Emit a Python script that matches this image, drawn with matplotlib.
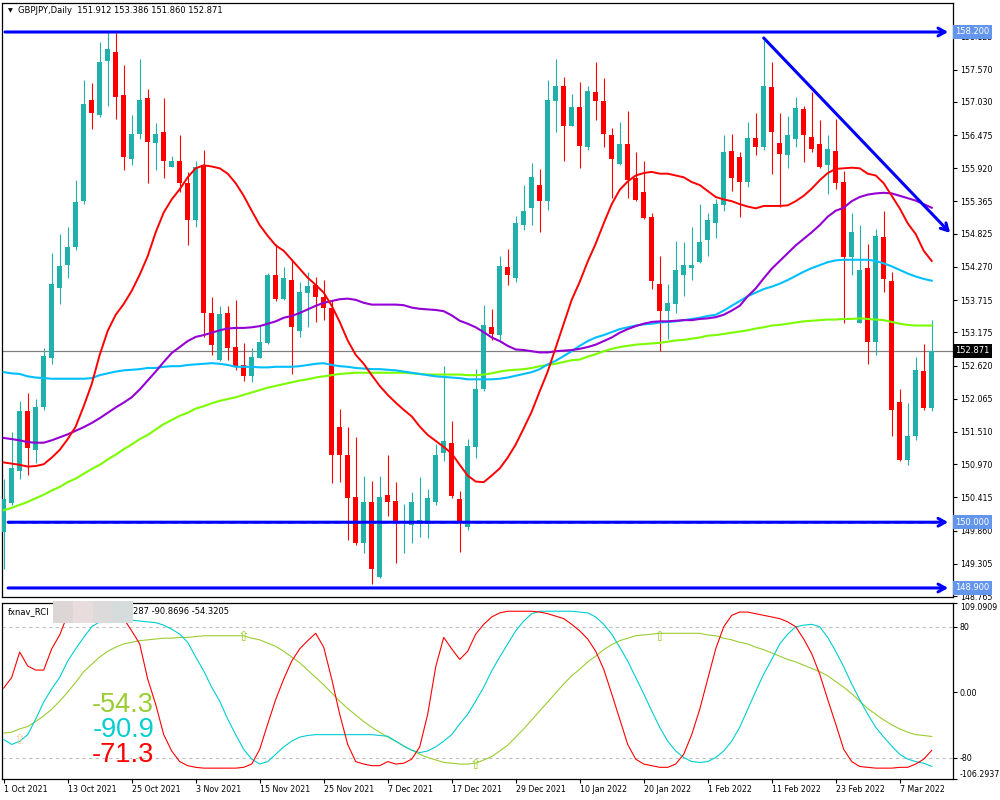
import matplotlib.pyplot as plt
from matplotlib.patches import Rectangle
import numpy as np

plt.rcParams['font.family'] = ['DejaVu Sans']

symbol = 'GBPJPY,Daily'
ohlc_text = '151.912 153.386 151.860 152.871'

# daily candles, 1 Oct 2021 .. Mar 2022
opens = [149.84, 150.32, 150.85, 151.86, 151.20, 151.93, 152.75, 153.92, 154.31, 154.60,
         155.37, 157.07, 156.81, 157.72, 157.86, 157.14, 156.08, 156.49, 157.09, 156.34,
         156.52, 155.94, 156.05, 155.67, 155.06, 155.97, 153.50, 152.72, 153.50, 152.93,
         152.63, 152.44, 152.75, 153.00, 154.13, 153.73, 154.05, 153.20, 153.84, 153.97,
         153.77, 153.59, 151.60, 151.12, 150.43, 149.66, 150.33, 149.08, 150.45, 150.36,
         149.98, 149.95, 149.98, 149.97, 150.34, 151.16, 151.33, 150.38, 149.92, 151.26,
         152.22, 153.27, 153.13, 154.27, 154.09, 154.97, 155.26, 155.64, 155.37, 157.05,
         157.29, 156.62, 156.95, 156.27, 157.19, 157.04, 156.47, 155.99, 156.33, 155.76,
         155.52, 155.11, 153.99, 153.53, 153.65, 154.14, 154.25, 154.36, 154.72, 155.00,
         155.31, 156.21, 156.11, 155.69, 156.42, 156.28, 157.28, 156.35, 156.15, 156.41,
         156.91, 156.44, 156.32, 155.97, 156.21, 155.69, 154.44, 153.34, 154.25, 153.01,
         154.77, 154.03, 152.01, 151.04, 151.44, 152.53, 151.912]
highs = [150.73, 151.51, 152.03, 152.16, 152.06, 152.92, 154.50, 154.82, 154.94, 155.72,
         157.40, 157.34, 158.04, 158.21, 158.18, 157.64, 156.81, 157.75, 157.25, 156.68,
         157.09, 156.13, 156.47, 155.86, 156.05, 156.22, 153.76, 153.62, 153.61, 153.72,
         152.99, 152.92, 153.29, 154.17, 154.65, 154.27, 154.41, 154.02, 154.19, 154.11,
         154.05, 153.72, 151.89, 151.60, 151.42, 150.78, 150.69, 150.78, 151.12, 150.67,
         150.30, 150.50, 150.75, 150.56, 151.30, 152.61, 151.70, 150.52, 151.39, 152.57,
         153.64, 153.56, 154.45, 154.57, 155.12, 155.64, 156.01, 155.90, 157.40, 157.75,
         157.45, 157.17, 157.36, 157.29, 157.69, 157.43, 156.59, 156.70, 156.88, 156.19,
         156.04, 155.18, 154.46, 153.99, 154.71, 154.69, 154.94, 155.32, 155.18, 155.40,
         156.48, 156.49, 156.19, 156.70, 156.84, 158.06, 157.70, 156.84, 156.80, 157.11,
         156.97, 157.20, 156.73, 156.48, 156.74, 155.87, 155.17, 154.97, 154.66, 154.91,
         155.21, 154.19, 152.22, 152.00, 152.77, 152.98, 153.386]
lows = [149.21, 150.29, 150.72, 150.79, 150.99, 151.87, 152.65, 153.65, 154.08, 154.56,
        155.32, 156.57, 156.77, 156.97, 156.74, 155.89, 155.97, 156.41, 155.67, 155.89,
        155.75, 155.94, 155.52, 154.63, 154.94, 153.10, 152.80, 152.69, 152.72, 152.55,
        152.36, 152.34, 152.74, 152.98, 153.70, 153.72, 152.48, 153.09, 153.26, 153.35,
        153.38, 150.66, 150.67, 149.71, 149.62, 149.48, 148.96, 149.07, 150.11, 149.32,
        149.48, 149.66, 149.75, 149.74, 150.28, 151.02, 150.40, 149.51, 149.87, 151.08,
        152.19, 153.04, 153.04, 153.97, 154.02, 154.89, 154.97, 154.86, 155.23, 156.53,
        156.05, 156.62, 155.92, 156.22, 156.73, 156.27, 155.43, 155.98, 155.43, 155.37,
        155.07, 153.90, 152.86, 153.07, 153.50, 153.78, 154.05, 154.34, 154.45, 154.75,
        155.21, 155.54, 155.10, 155.61, 156.15, 156.22, 155.83, 155.28, 155.93, 156.28,
        156.02, 156.19, 155.92, 155.49, 155.58, 153.34, 154.13, 153.33, 152.65, 152.80,
        153.85, 151.44, 151.02, 150.96, 151.37, 151.87, 151.860]
closes = [150.39, 150.90, 151.86, 151.24, 151.93, 152.78, 153.98, 154.28, 154.61, 155.35,
          156.99, 156.85, 157.70, 157.92, 157.12, 156.11, 156.50, 157.07, 156.36, 156.49,
          156.04, 156.05, 155.67, 155.06, 155.95, 153.50, 152.96, 153.48, 152.92, 152.61,
          152.44, 152.77, 153.01, 154.14, 153.73, 154.09, 153.26, 153.85, 153.95, 153.77,
          153.59, 151.13, 151.13, 150.41, 149.66, 150.33, 149.21, 150.42, 150.34, 149.98,
          150.01, 150.34, 150.04, 150.41, 151.12, 151.36, 150.44, 149.99, 151.27, 152.22,
          153.30, 153.15, 154.28, 154.13, 155.00, 155.20, 155.77, 155.37, 157.07, 157.29,
          156.62, 156.95, 156.30, 157.22, 157.04, 156.50, 156.07, 156.33, 155.73, 155.39,
          155.09, 154.04, 153.53, 153.67, 154.22, 154.30, 154.31, 154.69, 155.06, 155.32,
          156.19, 155.75, 155.69, 156.42, 156.28, 157.29, 156.53, 156.16, 156.47, 156.93,
          156.47, 156.24, 155.94, 156.24, 155.67, 154.44, 154.86, 154.22, 153.01, 154.79,
          154.06, 151.87, 151.04, 151.44, 152.54, 151.91, 152.871]

ma_red = [151.00, 150.98, 150.96, 150.93, 150.94, 150.97, 151.08, 151.21, 151.39, 151.60,
          151.94, 152.31, 152.80, 153.20, 153.47, 153.65, 153.87, 154.14, 154.45, 154.85,
          155.18, 155.40, 155.57, 155.77, 155.92, 155.97, 155.95, 155.92, 155.83, 155.67,
          155.46, 155.21, 154.97, 154.79, 154.63, 154.54, 154.39, 154.24, 154.09, 153.97,
          153.84, 153.62, 153.35, 153.04, 152.80, 152.65, 152.46, 152.28, 152.13, 152.00,
          151.88, 151.77, 151.60, 151.46, 151.36, 151.26, 151.15, 150.96, 150.78, 150.68,
          150.67, 150.78, 150.90, 151.08, 151.30, 151.57, 151.85, 152.19, 152.52, 152.92,
          153.32, 153.72, 154.02, 154.36, 154.66, 155.00, 155.32, 155.56, 155.70, 155.80,
          155.84, 155.86, 155.83, 155.83, 155.80, 155.77, 155.69, 155.64, 155.54, 155.44,
          155.40, 155.37, 155.32, 155.28, 155.25, 155.29, 155.29, 155.29, 155.30, 155.37,
          155.46, 155.58, 155.72, 155.84, 155.91, 155.92, 155.93, 155.92, 155.83, 155.80,
          155.67, 155.46, 155.25, 155.00, 154.82, 154.54, 154.37]
ma_purple = [151.41, 151.39, 151.37, 151.34, 151.33, 151.33, 151.37, 151.42, 151.47, 151.53,
             151.59, 151.66, 151.74, 151.83, 151.92, 152.00, 152.09, 152.22, 152.37, 152.52,
             152.68, 152.83, 152.93, 153.03, 153.10, 153.13, 153.17, 153.21, 153.24, 153.25,
             153.25, 153.26, 153.28, 153.32, 153.36, 153.42, 153.45, 153.50, 153.56, 153.62,
             153.67, 153.70, 153.73, 153.74, 153.72, 153.67, 153.64, 153.64, 153.64, 153.64,
             153.63, 153.59, 153.57, 153.56, 153.55, 153.53, 153.46, 153.37, 153.32, 153.26,
             153.18, 153.09, 153.03, 152.95, 152.89, 152.88, 152.86, 152.84, 152.84, 152.86,
             152.87, 152.88, 152.90, 152.93, 152.97, 153.03, 153.09, 153.17, 153.23, 153.28,
             153.32, 153.35, 153.36, 153.36, 153.37, 153.38, 153.38, 153.40, 153.41, 153.43,
             153.47, 153.54, 153.62, 153.78, 153.91, 154.08, 154.24, 154.37, 154.50, 154.63,
             154.74, 154.85, 154.97, 155.11, 155.21, 155.26, 155.37, 155.44, 155.48, 155.50,
             155.51, 155.50, 155.46, 155.42, 155.38, 155.32, 155.26]
ma_cyan = [152.51, 152.49, 152.48, 152.44, 152.42, 152.41, 152.40, 152.40, 152.40, 152.40,
           152.40, 152.41, 152.46, 152.49, 152.52, 152.54, 152.55, 152.56, 152.58, 152.58,
           152.60, 152.61, 152.61, 152.63, 152.64, 152.65, 152.66, 152.65, 152.63, 152.60,
           152.60, 152.60, 152.59, 152.59, 152.60, 152.60, 152.60, 152.61, 152.63, 152.65,
           152.66, 152.63, 152.61, 152.60, 152.58, 152.57, 152.56, 152.56, 152.55, 152.54,
           152.52, 152.50, 152.48, 152.46, 152.44, 152.43, 152.42, 152.41, 152.39, 152.39,
           152.39, 152.39, 152.40, 152.42, 152.45, 152.48, 152.51, 152.56, 152.64, 152.70,
           152.78, 152.86, 152.95, 153.03, 153.09, 153.13, 153.18, 153.23, 153.26, 153.29,
           153.31, 153.32, 153.34, 153.35, 153.36, 153.38, 153.40, 153.42, 153.45, 153.47,
           153.54, 153.62, 153.70, 153.78, 153.84, 153.90, 153.94, 153.99, 154.05, 154.12,
           154.19, 154.25, 154.30, 154.35, 154.38, 154.39, 154.39, 154.39, 154.39, 154.37,
           154.33, 154.28, 154.22, 154.16, 154.11, 154.07, 154.04]
ma_green = [150.20, 150.24, 150.29, 150.34, 150.40, 150.46, 150.53, 150.59, 150.67, 150.73,
            150.81, 150.89, 150.96, 151.05, 151.13, 151.22, 151.30, 151.39, 151.46, 151.55,
            151.64, 151.71, 151.78, 151.83, 151.90, 151.94, 151.99, 152.03, 152.06, 152.09,
            152.13, 152.17, 152.21, 152.25, 152.28, 152.31, 152.34, 152.37, 152.39, 152.42,
            152.44, 152.46, 152.48, 152.49, 152.50, 152.50, 152.50, 152.50, 152.50, 152.50,
            152.50, 152.49, 152.48, 152.47, 152.47, 152.47, 152.47, 152.47, 152.46, 152.46,
            152.47, 152.49, 152.52, 152.54, 152.55, 152.56, 152.58, 152.61, 152.63, 152.65,
            152.68, 152.71, 152.72, 152.77, 152.81, 152.86, 152.90, 152.93, 152.95, 152.97,
            152.98, 152.99, 153.00, 153.02, 153.04, 153.05, 153.07, 153.09, 153.12, 153.13,
            153.15, 153.17, 153.19, 153.21, 153.24, 153.26, 153.29, 153.30, 153.32, 153.34,
            153.36, 153.37, 153.38, 153.39, 153.39, 153.40, 153.40, 153.41, 153.40, 153.39,
            153.38, 153.35, 153.32, 153.30, 153.29, 153.29, 153.29]

date_ticks = [0, 8, 16, 24, 32, 40, 48, 56, 64, 72, 80, 88, 96, 104, 112]
date_labels = ['1 Oct 2021', '13 Oct 2021', '25 Oct 2021', '3 Nov 2021', '15 Nov 2021',
               '25 Nov 2021', '7 Dec 2021', '17 Dec 2021', '29 Dec 2021', '10 Jan 2022',
               '20 Jan 2022', '1 Feb 2022', '11 Feb 2022', '23 Feb 2022', '7 Mar 2022']

price_ticks = [158.125, 157.570, 157.030, 156.475, 155.920, 155.365, 154.825, 154.270,
               153.715, 153.175, 152.620, 152.065, 151.510, 150.970, 150.415, 149.860,
               149.305, 148.765]
level_lines = [158.200, 150.000, 148.900]
last_price = 152.871
trend_x = [95, 118.3]
trend_y = [158.10, 154.84]

rci_red = [5, 18, 49, 32, 27, 27, 53, 70, 95, 100,
           100, 100, 100, 100, 98, 90, 75, 59, 16, -15,
           -52, -72, -85, -90, -92, -93, -93, -93, -93, -93,
           -92, -88, -70, -39, -9, 16, 38, 53, 63, 72,
           55, 16, -27, -64, -85, -88, -90, -90, -85, -88,
           -87, -82, -67, -27, 31, 67, 53, 40, 50, 71,
           83, 92, 97, 99, 99, 99, 99, 98, 96, 93,
           90, 83, 75, 65, 50, 28, -2, -33, -64, -82,
           -88, -90, -92, -92, -88, -76, -52, -21, 16, 53,
           80, 94, 98, 98, 96, 94, 92, 90, 86, 80,
           65, 47, 22, -9, -39, -70, -85, -91, -92, -93,
           -93, -93, -92, -92, -88, -82, -71.3]
rci_cyan = [-58, -64, -60, -52, -33, -12, 4, 18, 38, 53,
            67, 80, 86, 88, 90, 90, 88, 87, 86, 85,
            82, 77, 71, 61, 43, 26, 6, -11, -33, -52,
            -70, -82, -88, -85, -76, -67, -60, -55, -53, -52,
            -52, -52, -52, -52, -52, -52, -52, -53, -54, -60,
            -66, -71, -74, -72, -67, -60, -52, -39, -27, -11,
            6, 26, 43, 59, 75, 87, 96, 99, 99, 99,
            99, 99, 98, 97, 92, 83, 71, 55, 38, 18,
            -2, -23, -43, -60, -72, -80, -85, -86, -85, -80,
            -72, -60, -43, -21, 1, 22, 40, 59, 71, 80,
            82, 83, 80, 67, 50, 31, 10, -9, -27, -43,
            -55, -66, -76, -82, -85, -87, -90.9]
rci_green = [-50, -49, -45, -42, -36, -29, -21, -11, 0, 12,
             25, 34, 43, 50, 55, 59, 61, 63, 64, 65,
             66, 66, 67, 67, 68, 69, 69, 69, 69, 69,
             69, 66, 64, 60, 56, 50, 43, 36, 27, 18,
             9, -1, -11, -20, -28, -36, -43, -49, -55, -60,
             -66, -71, -76, -80, -83, -86, -87, -88, -88, -87,
             -83, -79, -72, -65, -55, -45, -34, -23, -12, -1,
             10, 20, 28, 37, 44, 52, 58, 63, 66, 69,
             70, 71, 72, 72, 72, 72, 72, 72, 70, 69,
             66, 64, 61, 59, 55, 52, 48, 44, 40, 37,
             33, 29, 25, 20, 13, 6, -2, -11, -20, -27,
             -34, -40, -45, -49, -52, -53, -54.3]
rci_ticks = [109.0909, 80, 0, -80, -106.2937]
rci_tick_labels = ['109.0909', '80', '0.00', '-80', '-106.2937']
rci_header = '287 -90.8696 -54.3205'
signal_bars = [2, 30, 59, 82]
signal_vals = [-58, 68, -89, 68]

BULL = '#20B2AA'
BEAR = '#FF0000'
FS = 5.7

fig = plt.figure(figsize=(10, 8), dpi=100)
ax = fig.add_axes([0.002, 0.25375, 0.951, 0.7425])
ax2 = fig.add_axes([0.002, 0.02625, 0.951, 0.22], sharex=ax)

x = np.arange(len(closes))
o = np.array(opens)
h = np.array(highs)
l = np.array(lows)
c = np.array(closes)
cols = np.where(c >= o, BULL, BEAR)

ax.axhline(last_price, color='#808080', lw=0.9, zorder=1)
ax.vlines(x, l, h, colors=cols, lw=0.8, zorder=3)
ax.bar(x, np.maximum(np.abs(c - o), 0.015), bottom=np.minimum(o, c), width=0.625,
       color=cols, lw=0, zorder=4)

ax.plot(x, ma_green, color='#7CFC00', lw=1.5, zorder=5)
ax.plot(x, ma_cyan, color='#00BFFF', lw=1.5, zorder=5)
ax.plot(x, ma_purple, color='#9400D3', lw=1.5, zorder=5)
ax.plot(x, ma_red, color='#FF0000', lw=1.4, zorder=5)

arrow = dict(arrowstyle='->,head_length=0.5,head_width=0.28', color='#0000FF', lw=2.2,
             mutation_scale=10, shrinkA=0, shrinkB=0)
starts = [0.16, 0.55, 0.55]
for lev, xs in zip(level_lines, starts):
    ax.annotate('', xy=(118.05, lev), xytext=(xs, lev), arrowprops=arrow, zorder=7)
ax.plot([0.55, 117.8], [level_lines[1] - 0.02] * 2, color='#6495ED', lw=1.2,
        ls=(0, (4, 3)), zorder=6)
ax.annotate('', xy=(trend_x[1], trend_y[1]), xytext=(trend_x[0], trend_y[0]),
            arrowprops=arrow, zorder=7)

ax.set_xlim(-0.2125, 118.66)
ax.set_ylim(148.749, 158.685)
ax.yaxis.tick_right()
ax.set_yticks(price_ticks)
ax.set_yticklabels([f'{p:.3f}' for p in price_ticks])
ax.tick_params(axis='y', length=3, width=0.8, labelsize=FS, pad=2)
ax.tick_params(axis='x', bottom=False, labelbottom=False)

for lev in level_lines:
    ax.annotate(f'{lev:.3f}', xy=(1, lev), xycoords=('axes fraction', 'data'),
                xytext=(1.6, 0), textcoords='offset points', va='center', ha='left',
                fontsize=FS + 0.3, color='white', annotation_clip=False, zorder=10,
                bbox=dict(boxstyle='square,pad=0.3', fc='#6495ED', ec='none'))
ax.annotate(f'{last_price:.3f}', xy=(1, last_price), xycoords=('axes fraction', 'data'),
            xytext=(1.6, 0), textcoords='offset points', va='center', ha='left',
            fontsize=FS + 0.3, color='white', annotation_clip=False, zorder=10,
            bbox=dict(boxstyle='square,pad=0.3', fc='black', ec='none'))

# indicator panel
ax2.axhline(80, color='#C0C0C0', lw=0.8, ls=(0, (3, 3)), zorder=1)
ax2.axhline(-80, color='#C0C0C0', lw=0.8, ls=(0, (3, 3)), zorder=1)
ax2.plot(x, rci_green, color='#9ACD32', lw=0.8, zorder=3)
ax2.plot(x, rci_cyan, color='#00CED1', lw=0.8, zorder=3)
ax2.plot(x, rci_red, color='#FF0000', lw=0.8, zorder=3)
for i, (b, v) in enumerate(zip(signal_bars, signal_vals)):
    ax2.text(b, v, '\u21e7', color='#FFCC99' if i == 0 else '#9ACD32', fontsize=10,
             ha='center', va='center', zorder=4)

ax2.set_ylim(-106.2937, 109.0909)
ax2.yaxis.tick_right()
ax2.set_yticks(rci_ticks)
ax2.set_yticklabels(rci_tick_labels)
ax2.tick_params(axis='y', length=3, width=0.8, labelsize=FS, pad=2)
ylabs = ax2.get_yticklabels()
ylabs[0].set_va('top')
ylabs[-1].set_va('bottom')
ax2.set_xticks(date_ticks)
ax2.set_xticklabels(date_labels, ha='left')
ax2.tick_params(axis='x', length=3, width=0.8, labelsize=FS, pad=1.5)

big = [(rci_green[-1], '#9ACD32', 0.42), (rci_cyan[-1], '#00CED1', 0.278),
       (rci_red[-1], '#FF0000', 0.136)]
for val, col, yy in big:
    ax2.text(0.16, yy, f'{val:.1f}', transform=ax2.transAxes, ha='right', va='center',
             fontsize=19.5, color=col, family='Liberation Sans', zorder=5)

for a in (ax, ax2):
    for s in a.spines.values():
        s.set_color('black')
        s.set_linewidth(0.9)

# headers
fig.text(0.008, 1 - 10.5 / 800, '\u25bc', fontsize=4.5, va='center', ha='left')
fig.text(0.018, 1 - 10.5 / 800, f'{symbol}  {ohlc_text}', fontsize=FS + 0.3,
         va='center', ha='left')
fig.text(0.008, 1 - 612 / 800, 'fxnav_RCI', fontsize=FS + 0.3, va='center', ha='left')
for k, fc in enumerate(['#dcd6d6', '#e8dcdc', '#dcdada', '#d6dcdc']):
    fig.add_artist(Rectangle((0.053 + k * 0.02, 1 - 623 / 800), 0.02, 22 / 800,
                             transform=fig.transFigure, fc=fc, ec='none', zorder=6))
fig.text(0.133, 1 - 612 / 800, rci_header, fontsize=FS + 0.3, va='center', ha='left')

fig.savefig('out.png', dpi=100)
